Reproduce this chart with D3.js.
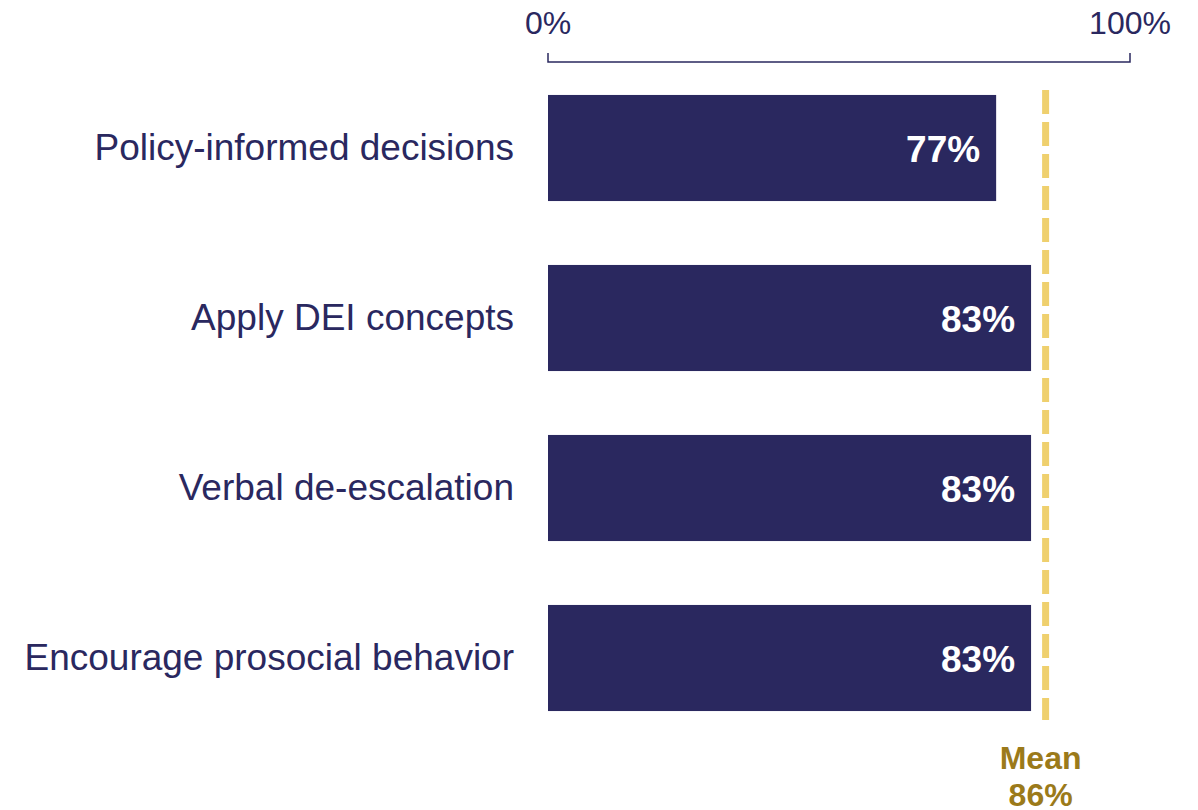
<!DOCTYPE html>
<html>
<head>
<meta charset="utf-8">
<script src="https://cdn.jsdelivr.net/npm/d3@7"></script>
<style>
  body { margin: 0; background: #fff; }
  text { font-family: "Liberation Sans", Arial, sans-serif; }
</style>
</head>
<body>
<div class="chart"></div>
<script>
(() => {
  const categories = [
    "Policy-informed decisions",
    "Apply DEI concepts",
    "Verbal de-escalation",
    "Encourage prosocial behavior",
  ];
  const values = [77, 83, 83, 83];
  const tickValues = [0, 100];
  const meanValue = 85.5;

  const width = 1198, height = 810;
  const navy = "#2a285f";
  const gold = "#9b7a1a";
  const dash = "#efd06e";

  const svg = d3.select(".chart").append("svg")
    .attr("width", width)
    .attr("height", height);

  const x = d3.scaleLinear().domain([0, 100]).range([548, 1130]);
  const y = d3.scaleBand()
    .domain(categories)
    .range([63, 743])
    .paddingInner(0.376)
    .paddingOuter(0.188);

  // top bracket axis
  const axisY = 62;
  svg.append("path")
    .attr("d", `M${x(0)},${axisY - 9}V${axisY}H${x(100)}V${axisY - 9}`)
    .attr("fill", "none")
    .attr("stroke", navy)
    .attr("stroke-width", 1.5);

  svg.selectAll(".tick-label").data(tickValues).enter()
    .append("text")
    .attr("class", "tick-label")
    .attr("x", d => x(d))
    .attr("y", 34)
    .attr("text-anchor", "middle")
    .attr("fill", navy)
    .style("font-size", "32px")
    .text(d => d + "%");

  // bars
  svg.selectAll("rect.bar").data(values).enter()
    .append("rect")
    .attr("class", "bar")
    .attr("x", x(0))
    .attr("y", (d, i) => y(categories[i]))
    .attr("width", d => x(d) - x(0))
    .attr("height", y.bandwidth())
    .attr("fill", navy);

  svg.selectAll(".val").data(values).enter()
    .append("text")
    .attr("class", "val")
    .attr("x", d => x(d) - 16)
    .attr("y", (d, i) => y(categories[i]) + y.bandwidth() / 2)
    .attr("dy", "0.38em")
    .attr("text-anchor", "end")
    .attr("fill", "#fff")
    .style("font-size", "37px")
    .style("font-weight", "bold")
    .text(d => d + "%");

  svg.selectAll(".cat").data(categories).enter()
    .append("text")
    .attr("class", "cat")
    .attr("x", 514)
    .attr("y", d => y(d) + y.bandwidth() / 2)
    .attr("dy", "0.33em")
    .attr("text-anchor", "end")
    .attr("fill", navy)
    .style("font-size", "37px")
    .text(d => d);

  // mean line
  svg.append("line")
    .attr("x1", x(meanValue)).attr("x2", x(meanValue))
    .attr("y1", 90).attr("y2", 720)
    .attr("stroke", dash)
    .attr("stroke-width", 7)
    .attr("stroke-dasharray", "24,8");

  const meanLabel = svg.append("text")
    .attr("x", x(meanValue) - 5)
    .attr("y", 769)
    .attr("text-anchor", "middle")
    .attr("fill", gold)
    .style("font-size", "32px")
    .style("font-weight", "bold");
  meanLabel.append("tspan").attr("x", x(meanValue) - 5).text("Mean");
  meanLabel.append("tspan").attr("x", x(meanValue) - 5).attr("dy", 37)
    .text(Math.round(meanValue) + "%");
})();
</script>
</body>
</html>
